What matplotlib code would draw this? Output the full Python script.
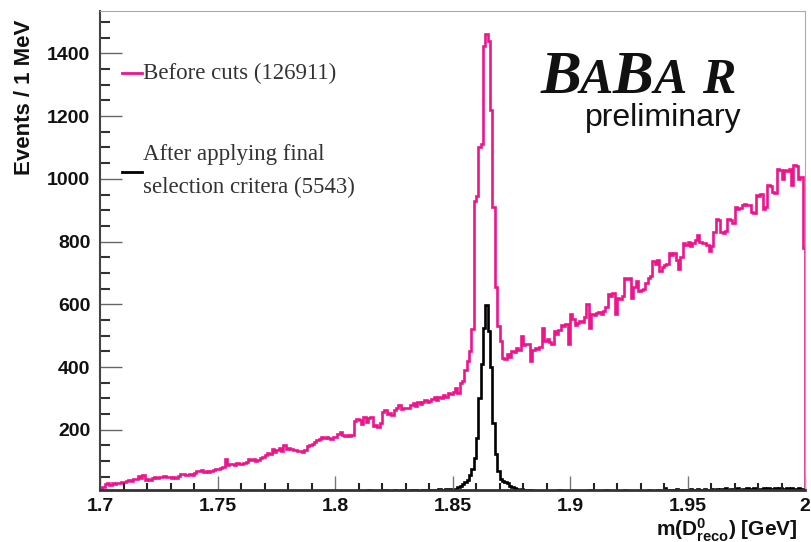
import numpy as np
import matplotlib
matplotlib.use('Agg')
import matplotlib.pyplot as plt
from matplotlib.lines import Line2D
from matplotlib.ticker import MultipleLocator

# 1 MeV bins from 1.700 to 2.000 GeV
edges = np.round(np.linspace(1.7, 2.0, 301), 4)

# before cuts (magenta), 10 bins per row
before = [
    15, 18, 26, 29, 25, 30, 27, 31, 29, 33,
    34, 36, 40, 38, 44, 42, 52, 46, 55, 40,
    42, 39, 47, 49, 46, 50, 48, 52, 51, 49,
    47, 50, 46, 53, 60, 58, 56, 55, 59, 57,
    62, 70, 68, 71, 66, 67, 65, 68, 72, 74,
    76, 78, 80, 106, 88, 92, 90, 89, 93, 91,
    90, 93, 97, 106, 104, 108, 101, 103, 110, 112,
    118, 125, 123, 140, 128, 137, 142, 132, 150, 138,
    141, 139, 136, 134, 132, 131, 128, 134, 148, 150,
    155, 160, 168, 172, 176, 174, 177, 175, 172, 178,
    176, 188, 192, 182, 180, 184, 179, 183, 228, 235,
    230, 218, 242, 226, 238, 240, 212, 215, 210, 222,
    258, 262, 250, 255, 248, 262, 270, 280, 265, 268,
    270, 268, 280, 284, 276, 288, 282, 290, 295, 288,
    292, 298, 304, 296, 306, 302, 312, 306, 318, 314,
    322, 333, 318, 348, 356, 392, 418, 452, 520, 930,
    945, 1100, 1112, 1425, 1462, 1440, 1218, 910, 655, 530,
    482, 430, 425, 440, 432, 452, 448, 460, 455, 500,
    470, 475, 472, 420, 455, 462, 458, 465, 524, 483,
    488, 480, 473, 514, 505, 518, 535, 530, 538, 475,
    568, 552, 535, 540, 548, 545, 560, 600, 524, 568,
    565, 572, 575, 570, 578, 590, 632, 628, 635, 568,
    620, 618, 625, 683, 680, 685, 620, 655, 673, 641,
    645, 650, 668, 683, 690, 737, 730, 740, 705, 720,
    725, 730, 762, 758, 765, 740, 714, 750, 794, 790,
    798, 785, 796, 805, 822, 800, 794, 795, 788, 770,
    785, 830, 873, 868, 832, 828, 835, 873, 870, 860,
    911, 905, 908, 917, 920, 915, 918, 895, 890, 949,
    945, 952, 905, 910, 981, 978, 959, 955, 1032, 1028,
    1000, 1028, 1025, 1030, 981, 1044, 1040, 1000, 1005, 780,
]

# after final selection (black)
after = [
    0, 1, 0, 0, 2, 0, 1, 0, 0, 1,
    0, 0, 2, 1, 0, 0, 1, 0, 2, 0,
    1, 0, 0, 1, 0, 2, 0, 1, 0, 0,
    2, 0, 1, 0, 1, 0, 0, 2, 1, 0,
    0, 1, 2, 0, 1, 0, 3, 1, 0, 2,
    1, 0, 2, 1, 3, 0, 1, 2, 0, 1,
    2, 1, 0, 3, 1, 2, 1, 0, 2, 3,
    1, 2, 4, 1, 0, 2, 3, 1, 2, 0,
    3, 1, 2, 4, 2, 1, 3, 2, 4, 1,
    2, 4, 3, 1, 2, 5, 3, 2, 4, 3,
    5, 3, 4, 6, 3, 4, 2, 5, 4, 6,
    4, 6, 3, 5, 7, 4, 6, 5, 3, 6,
    5, 7, 4, 6, 5, 8, 6, 4, 7, 5,
    6, 4, 7, 5, 8, 6, 5, 7, 9, 6,
    8, 6, 9, 7, 10, 8, 9, 11, 10, 12,
    11, 12, 16, 22, 26, 32, 40, 55, 75, 110,
    175, 300, 410, 524, 598, 515, 400, 220, 124, 70,
    44, 38, 32, 30, 22, 16, 15, 12, 8, 10,
    6, 7, 5, 8, 4, 6, 5, 3, 6, 4,
    5, 3, 6, 4, 5, 7, 3, 4, 6, 5,
    4, 6, 3, 5, 4, 6, 5, 3, 7, 4,
    5, 4, 6, 3, 5, 7, 4, 5, 3, 6,
    4, 6, 5, 7, 4, 5, 6, 3, 5, 4,
    6, 5, 4, 7, 5, 6, 4, 8, 5, 6,
    15, 8, 6, 9, 7, 10, 6, 8, 7, 9,
    8, 10, 7, 9, 11, 8, 7, 10, 9, 8,
    10, 8, 12, 9, 11, 10, 14, 9, 12, 10,
    11, 13, 9, 12, 10, 14, 11, 9, 13, 12,
    10, 12, 15, 11, 13, 10, 12, 14, 11, 13,
    12, 10, 13, 11, 14, 12, 9, 13, 11, 8,
]

label_before = 'Before cuts (126911)'
label_after = 'After applying final\nselection critera (5543)'

pink = '#f0148c'
sans = 'Liberation Sans'
serif = 'Liberation Serif'

plt.rcParams['mathtext.fontset'] = 'custom'
plt.rcParams['mathtext.bf'] = 'Liberation Sans:bold'
plt.rcParams['mathtext.rm'] = 'Liberation Sans:bold'
plt.rcParams['mathtext.default'] = 'bf'

fig = plt.figure(figsize=(8.12, 5.42), dpi=100)
ax = fig.add_axes([100 / 812, 52 / 542, 705 / 812, 479 / 542])

ax.stairs(before, edges, color=pink, lw=1.9)
ax.stairs(after, edges, color='black', lw=1.9)

ax.set_xlim(1.7, 2.0)
ax.set_ylim(8, 1535)

ax.xaxis.set_major_locator(MultipleLocator(0.05))
ax.xaxis.set_minor_locator(MultipleLocator(0.01))
ax.yaxis.set_major_locator(MultipleLocator(200))
ax.yaxis.set_minor_locator(MultipleLocator(50))
ax.set_xticks([1.7, 1.75, 1.8, 1.85, 1.9, 1.95, 2.0])
ax.set_xticklabels(['1.7', '1.75', '1.8', '1.85', '1.9', '1.95', '2'])

ax.tick_params(axis='both', which='both', direction='in', top=False, right=False)
ax.tick_params(axis='y', which='major', length=16, width=1, color='#666666', pad=7)
ax.tick_params(axis='y', which='minor', length=7, width=1.5, color='#333333')
ax.tick_params(axis='x', which='major', length=10, width=1, color='#777777', pad=6)
ax.tick_params(axis='x', which='minor', length=5, width=1.5, color='#222222')
for lab in ax.get_xticklabels() + ax.get_yticklabels():
    lab.set_fontfamily(sans)
    lab.set_fontweight('bold')
    lab.set_fontsize(14)
    lab.set_color('#111111')

ax.spines['left'].set_color('#444444')
ax.spines['left'].set_linewidth(1.5)
ax.spines['bottom'].set_color('#333333')
ax.spines['bottom'].set_linewidth(2)
ax.spines['top'].set_color('#aaaaaa')
ax.spines['right'].set_color('#aaaaaa')

fig.text(25 / 812, 1 - 20 / 542, 'Events / 1 MeV', rotation=90, ha='center', va='top',
         fontfamily=sans, fontweight='bold', fontsize=16, color='#111111')
fig.text(798 / 812, 1 - 536 / 542, r'm(D$^{0}_{reco}$) [GeV]', ha='right', va='baseline',
         fontfamily=sans, fontweight='bold', fontsize=15, color='#111111')

# legend, drawn ROOT style
fig.add_artist(Line2D([122 / 812, 142 / 812], [1 - 73 / 542] * 2, color=pink, lw=2,
                      transform=fig.transFigure))
fig.add_artist(Line2D([122 / 812, 142 / 812], [1 - 172 / 542] * 2, color='black', lw=2,
                      transform=fig.transFigure))
fig.text(143 / 812, 1 - 73 / 542, label_before, ha='left', va='center',
         fontfamily=serif, fontsize=16.5, color='#333333')
fig.text(143 / 812, 1 - 171 / 542, label_after, ha='left', va='center',
         fontfamily=serif, fontsize=16.5, color='#333333', linespacing=1.75)

# BABAR logo
for s, x, fs in [('B', 541, 44), ('A', 580, 36), ('B', 613, 44), ('A', 654, 36), ('R', 702, 36)]:
    fig.text(x / 812, 1 - 93 / 542, s, ha='left', va='baseline', fontfamily=serif,
             fontweight='bold', fontstyle='italic', fontsize=fs, color='#111111')
fig.text(742 / 812, 1 - 126 / 542, 'preliminary', ha='right', va='baseline',
         fontfamily=sans, fontsize=23, color='#111111')

fig.savefig('out.png', dpi=100)
